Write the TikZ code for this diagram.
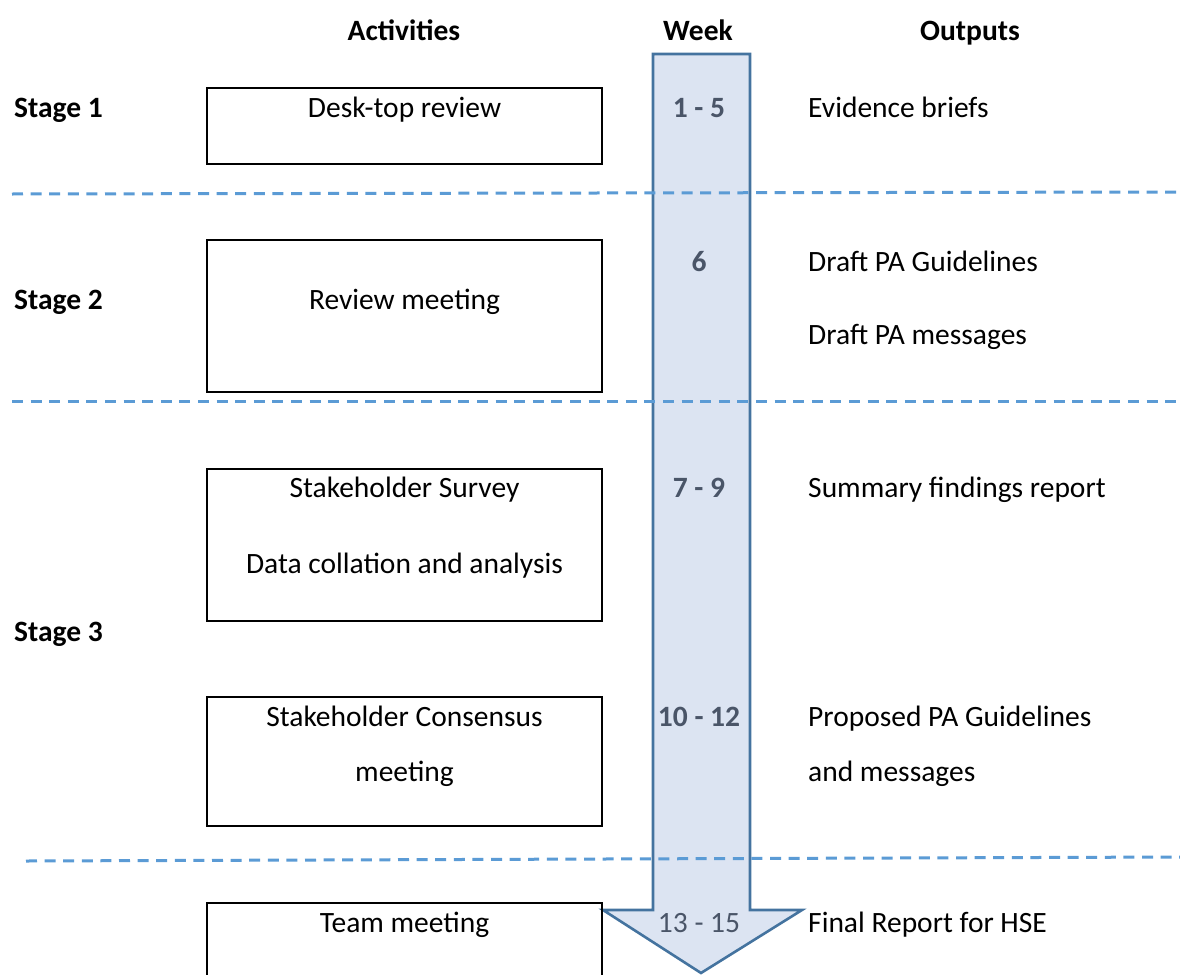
\documentclass[tikz,border=0pt]{standalone}
\usepackage{fontspec}
\setmainfont{Carlito}
\begin{document}
\begin{tikzpicture}[x=1pt,y=-1pt,
  txt/.style={font=\fontsize{29.5}{35}\selectfont, inner sep=0pt, anchor=base},
  lft/.style={txt, anchor=base west},
  hdr/.style={txt, font=\fontsize{29.5}{35}\selectfont\bfseries},
  stage/.style={lft, font=\fontsize{29.5}{35}\selectfont\bfseries},
  wk/.style={txt, text=weektext, font=\fontsize{29.5}{35}\selectfont\bfseries},
  actbox/.style={draw=black, line width=2pt, fill=none},
  sep/.style={draw=sepblue, line width=3pt, dash pattern=on 11pt off 7.6pt}
]
\definecolor{arrowfill}{HTML}{DCE4F2}
\definecolor{arrowline}{HTML}{44739F}
\definecolor{weektext}{HTML}{4A5568}
\definecolor{sepblue}{HTML}{5B9BD5}
\useasboundingbox (0,0) rectangle (1180,974);
\clip (0,0) rectangle (1180,974);

% timeline arrow
\draw[fill=arrowfill, draw=arrowline, line width=2.6pt, line join=miter]
  (653,54) -- (750,54) -- (750,910) -- (802,910) -- (701,973)
  -- (603,910) -- (653,910) -- cycle;

% activity boxes
\draw[actbox] (207,88) rectangle (602,164);
\draw[actbox] (207,240) rectangle (602,392);
\draw[actbox] (207,469) rectangle (602,621);
\draw[actbox] (207,697) rectangle (602,826);
\draw[actbox] (207,903) rectangle (602,990);

% stage separators
\coordinate (s1a) at (12,194);  \coordinate (s1b) at (1180,192);
\coordinate (s2a) at (12,401);  \coordinate (s2b) at (1180,401);
\coordinate (s3a) at (26,861);  \coordinate (s3b) at (1180,857);
\draw[sep] (s1a) -- (s1b);
\draw[sep] (s2a) -- (s2b);
\draw[sep] (s3a) -- (s3b);

% column headings
\node[hdr] (hact) at (404,41) {Activities};
\node[hdr] (hweek) at (698,41) {Week};
\node[hdr] (hout) at (970,41) {Outputs};

% stages
\node[stage] (st1) at (14,117) {Stage 1};
\node[stage] (st2) at (14,309) {Stage 2};
\node[stage] (st3) at (14,641) {Stage 3};

% activities
\node[txt] (a1) at (404.5,117) {Desk-top review};
\node[txt] (a2) at (404.5,309) {Review meeting};
\node[txt] (a3) at (404.5,497) {Stakeholder Survey};
\node[txt] (a3b) at (404.5,573) {Data collation and analysis};
\node[txt] (a4) at (404.5,726) {Stakeholder Consensus};
\node[txt] (a4b) at (404.5,781) {meeting};
\node[txt] (a5) at (404.5,932) {Team meeting};

% weeks
\node[wk] (w1) at (699,117) {1 - 5};
\node[wk] (w2) at (699,271) {6};
\node[wk] (w3) at (699,497) {7 - 9};
\node[wk] (w4) at (699,726) {10 - 12};
\node[txt, text=weektext] (w5) at (699,932) {13 - 15};

% outputs
\node[lft] (o1) at (808,117) {Evidence briefs};
\node[lft] (o2) at (808,271) {Draft PA Guidelines};
\node[lft] (o2b) at (808,344) {Draft PA messages};
\node[lft] (o3) at (808,497) {Summary findings report};
\node[lft] (o4) at (808,726) {Proposed PA Guidelines};
\node[lft] (o4b) at (808,781) {and messages};
\node[lft] (o5) at (808,932) {Final Report for HSE};
\end{tikzpicture}
\end{document}
